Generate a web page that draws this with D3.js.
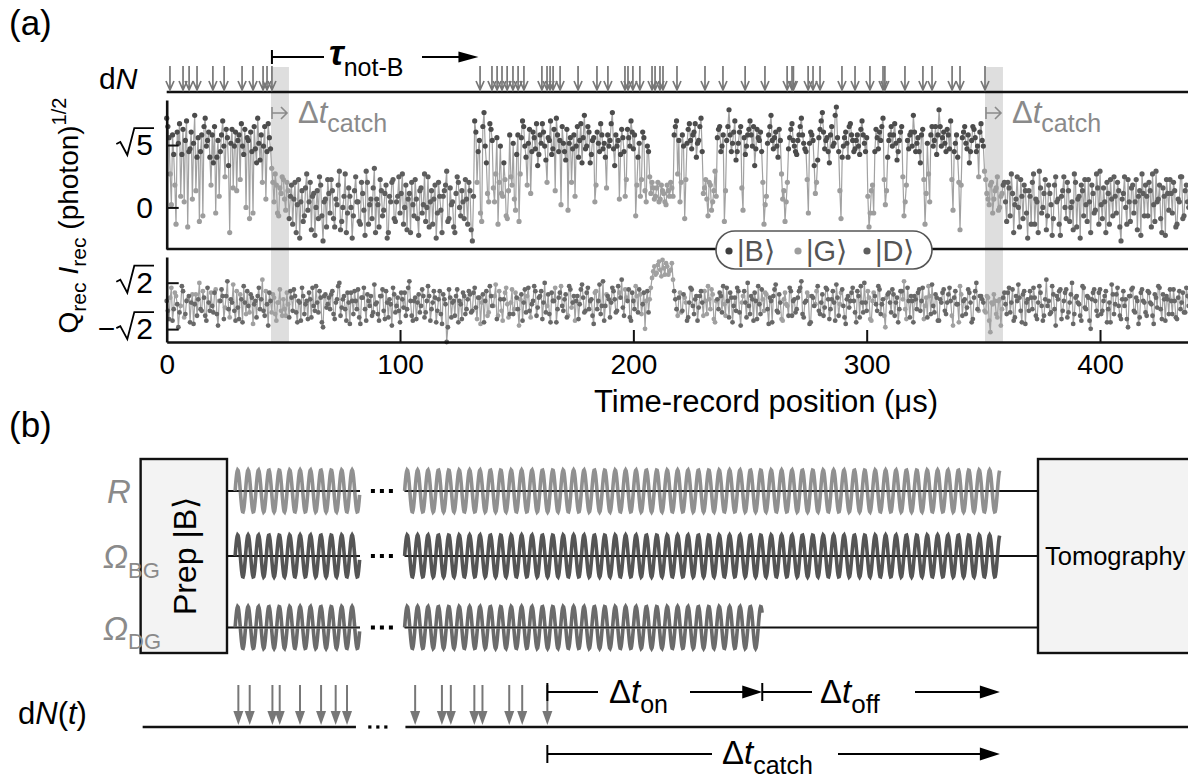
<!DOCTYPE html>
<meta charset="utf-8">
<head>
  <title>Catch and reverse record</title>
</head>

<style>
body {
  margin: 0;
  background: #fff;
}
svg {
  display: block;
  font-family: "Liberation Sans", Arial, Helvetica, sans-serif;
}
</style>

<body>
  <svg id="fig" width="1188" height="778"></svg>

  <script src="https://cdnjs.cloudflare.com/ajax/libs/d3/7.8.5/d3.min.js"></script>

  <script>
// ---- (a) time record: samples on the whole microsecond ----
var iRec = [
  3.2, 2.5, 0.1, 1.9,-0.6, 2.3, 0.4, 2.8, 2.4,-0.7,
  2.1, 0.3, 3.3, 1.8,-0.5, 2.6, 2.9, 2.2, 2.7, 0.8,
  1.6,-0.2, 2.4, 2.0, 3.1, 1.1, 2.5,-0.9, 2.8, 2.2,
  0.6, 2.6, 3.0, 1.9, 0.0, 2.4, 2.7,-0.2, 2.1, 3.2,
  1.7, 0.9, 2.9, 2.0, 2.5, 1.4, 0.2, 0.8,-0.3, 0.5,
  1.0,-0.1, 0.6, 0.4,-0.6, 0.9, 0.1,-1.1, 0.6,-0.3,
  1.2, 0.2,-0.8, 0.5, 0.0,-0.4, 0.8,-1.2, 0.3, 1.0,
 -0.2, 0.6,-0.7, 0.1, 1.3,-0.5, 0.4,-0.9, 0.7, 0.0,
 -0.3, 1.1, 0.2,-0.6, 0.5,-1.0, 0.9, 0.1,-0.4, 1.4,
  0.3,-0.7, 0.6,-0.1, 0.8,-0.9, 0.2, 1.0,-0.5, 0.4,
 -0.2, 1.2, 0.0,-0.8, 0.5, 0.9,-0.3, 0.3,-1.0, 0.7,
  0.1,-0.5, 1.1, 0.2,-0.6, 0.8,-0.2, 0.4,-0.9, 0.6,
  1.3,-0.4, 0.1,-0.7, 0.5, 0.9,-0.3, 0.2, 1.0,-0.6,
  0.6,-1.2, 3.1, 0.9, 2.4,-0.5, 3.4, 1.6, 0.2, 2.8,
  0.7, 1.2,-0.6, 2.2, 0.4, 1.0,-0.4, 2.6, 0.8, 0.3,
  1.9,-0.5, 2.5, 2.9, 1.8, 2.3, 0.5, 2.7, 2.1, 1.5,
  2.6, 3.0, 2.2, 0.9, 2.4, 1.9, 2.8, 3.2, 2.0, 0.1,
  2.3, 1.7,-0.1, 2.5, 2.1, 0.4, 2.9, 2.4, 1.6, 3.3,
  2.2, 2.7, 1.9, 2.5, 0.8, 2.3, 3.0, 2.1, 1.8, 2.6,
  2.4, 3.4, 1.5, 2.2, 0.3, 2.8, 2.0, 1.0, 2.5, 3.1,
  2.1,-0.3, 1.8, 0.4, 2.7, 0.6, 2.2, 1.1, 0.9, 0.3,
  0.7, 0.2, 0.8, 0.5, 0.1, 0.6, 0.9, 0.4, 2.9, 1.2,
  0.2, 2.6,-0.4, 2.3, 3.0, 2.1, 2.7, 1.8, 2.4, 3.2,
  0.5, 1.0,-0.3, 0.8, 0.2, 1.3, 2.5, 2.9, 2.2,-0.5,
  2.4, 3.5, 2.0, 2.7, 1.7, 2.3, 2.9,-0.1, 1.9, 2.6,
  3.1, 2.2, 1.5, 2.8, 2.4, 2.0,-0.6, 0.4, 2.6, 3.3,
  2.1, 2.7, 1.8, 2.4, 0.3,-0.5, 0.9, 2.5, 3.0, 2.2,
  1.9, 2.6, 3.2, 2.3, 2.0,-0.2, 2.7, 2.4, 0.5, 1.7,
  2.8, 3.4, 2.1, 2.5, 1.6, 2.9, 2.3, 3.6, 2.0,-0.4,
  2.2, 2.7, 1.8, 3.0, 2.4, 2.1, 2.6, 1.9, 3.1, 2.3,
  2.5,-0.7, 0.6,-0.2, 2.8, 2.1, 2.4, 3.2, 0.1, 1.8,
  2.6, 2.2, 3.0, 1.7, 2.4, 2.9,-0.3, 0.8, 2.1, 2.7,
  3.3, 2.0, 2.5, 1.6, 2.8,-0.6, 2.3, 0.2, 2.9, 2.4,
  1.9, 3.5, 2.2, 2.7, 2.0, 2.6, 3.1,-0.1, 2.3, 1.8,
 -0.8, 2.5, 2.9, 2.1, 1.6, 2.4, 2.8, 2.0, 1.1, 3.0,
  2.2, 1.0, 0.3, 0.8,-0.2, 0.6, 1.1, 0.0, 0.5, 0.9,
 -0.5, 0.7, 1.2,-0.9, 0.3, 0.0, 1.0,-0.4, 0.6,-1.1,
  0.4, 0.9,-0.6, 0.2, 1.3,-0.2, 0.5,-0.8, 0.8, 0.1,
 -0.4, 1.1, 0.3,-1.0, 0.6, 0.0, 0.9,-0.5, 0.2, 1.2,
 -0.7, 0.4, 0.8,-0.3, 0.1, 1.0,-0.9, 0.5,-0.1, 0.7,
  1.3,-0.4, 0.2, 0.9,-0.6, 0.3, 1.1,-0.2, 0.6,-1.2,
  0.5, 0.0, 1.0,-0.5, 0.8, 0.2,-0.8, 0.6, 1.2,-0.3,
  0.4, 0.9,-0.7, 0.1, 1.3, 0.3,-0.4, 0.7,-1.0, 0.5,
  1.0,-0.2, 0.6,-0.6, 0.2, 1.1,-0.3, 0.8, 0.0
];

var qRec = [
  0.3,-0.8, 1.1,-0.2, 0.6,-1.3, 0.0, 0.9,-0.5, 0.4,
 -1.0, 0.7, 0.1,-0.6, 1.4,-0.3, 0.5,-0.9, 0.2, 0.8,
 -0.4, 1.0,-1.2, 0.3, 0.6,-0.1, 1.5,-0.7, 0.2,-0.3,
  0.9,-0.8, 0.4, 1.2,-0.5, 0.0, 0.7,-1.1, 0.3, 0.6,
 -0.2, 1.6,-0.6, 0.1, 0.8,-0.4, 0.5,-0.9, 0.2,-0.3,
  0.4,-0.6, 0.1, 0.9,-0.3, 0.6,-1.0, 0.2, 1.1,-0.5,
  0.3, 0.8,-0.7, 0.0, 1.2,-0.4, 0.5,-1.3, 0.7, 0.1,
 -0.2, 0.9,-0.8, 0.4, 1.4,-0.1, 0.6,-0.9, 0.2, 0.8,
 -0.5, 0.3, 1.0,-1.1, 0.5,-0.2, 0.7, 0.0,-0.6, 1.3,
  0.2,-0.9, 0.6,-0.3, 0.9,-0.7, 0.1, 1.1,-0.4, 0.5,
 -1.0, 0.4, 0.8,-0.2, 1.5,-0.6, 0.3,-0.8, 0.7, 0.0,
  0.6,-0.4, 1.2,-0.9, 0.2, 0.5,-0.3, 0.9,-1.1, 0.4,
 -2.2, 1.0,-0.7, 0.3, 0.6,-1.0, 0.1, 0.8,-0.5, 0.4,
  0.7,-0.3, 1.1,-0.8, 0.5, 0.2,-1.0, 0.9,-0.4, 0.6,
  0.0, 1.3,-0.6, 0.4,-0.9, 0.8, 0.1,-0.5, 1.0,-0.2,
  0.5,-1.2, 0.7, 0.2,-0.4, 1.1,-0.7, 0.3, 0.9,-0.1,
  0.6,-0.8, 1.4, 0.0,-0.5, 0.8, 0.3,-1.0, 0.5, 1.2,
 -0.3, 0.7,-0.6, 1.0, 0.2,-0.9, 0.6, 0.1, 1.3,-0.4,
  0.8,-0.2, 0.4,-1.1, 0.9, 0.3,-0.5, 1.5, 0.0, 0.6,
 -0.7, 1.1, 0.4,-0.3, 0.8, 1.6,-0.6, 0.5, 1.0,-0.9,
  0.3, 1.2,-0.4, 0.7, 0.1,-1.4, 0.9, 0.4, 1.7, 2.4,
  2.0, 2.7, 1.8, 2.3, 2.6, 1.9, 2.2, 1.6, 0.4,-0.6,
  0.8,-0.3, 0.5,-0.9, 0.2, 1.0,-0.5, 0.6,-0.1, 0.9,
 -0.6, 0.3, 1.2,-0.2, 0.7,-1.0, 0.4, 0.8,-0.4, 0.1,
  1.1,-0.7, 0.5, 0.0,-0.3, 0.9,-1.2, 0.6, 0.2, 1.4,
 -0.5, 0.4, 0.8,-0.8, 0.1, 1.0,-0.3, 0.7,-1.1, 0.3,
  0.6, 1.3,-0.4, 0.2,-0.9, 0.8, 0.0, 1.1,-0.6, 0.4,
 -0.2, 0.9, 1.5,-0.7, 0.3, 0.6,-1.0, 0.5, 0.1, 1.2,
 -0.5, 0.7,-0.1, 1.0,-0.8, 0.4, 0.2, 1.3,-0.6, 0.8,
  0.0,-1.1, 0.6, 0.3, 1.1,-0.4, 0.9,-0.7, 0.2, 1.4,
 -0.3, 0.5,-0.9, 0.8, 0.1, 1.2,-0.5, 0.4,-1.3, 0.7,
  0.2, 1.0,-0.6, 0.5,-0.2, 0.9, 1.5,-0.8, 0.3, 0.6,
 -1.0, 0.4, 0.8,-0.3, 1.1, 0.0,-0.7, 0.6, 1.3,-0.4,
  0.5,-0.9, 0.2, 1.0,-0.5, 0.7, 0.3,-1.2, 0.9, 0.1,
  1.2,-0.6, 0.4,-0.1, 0.8,-1.0, 0.5, 1.4,-0.3, 0.6,
  0.2,-0.4, 0.5,-1.6, 0.1, 0.3,-0.7, 0.4,-0.2, 0.8,
 -0.5, 1.1, 0.2,-0.9, 0.6, 1.3,-0.3, 0.7,-1.1, 0.4,
  0.9,-0.2, 0.5,-0.8, 1.2, 0.0,-0.6, 1.6, 0.3,-0.4,
  0.7,-1.2, 0.4, 1.0,-0.3, 0.8,-0.7, 0.2, 1.4,-0.5,
  0.6, 0.1,-0.9, 1.1,-0.2, 0.5,-1.4, 0.8, 0.3,-0.6,
  1.0,-0.3, 0.6,-1.0, 0.2, 1.3,-0.5, 0.7, 0.0,-0.8,
  0.9, 0.4,-1.3, 0.6, 1.1,-0.4, 0.3,-0.7, 1.0, 0.2,
 -0.6, 0.8, 0.1,-1.1, 0.5, 1.2,-0.2, 0.7,-0.9, 0.4,
  1.0,-0.5, 0.3,-0.8, 0.9, 0.2,-0.4, 1.1, 0.0
];

// state of each whole-microsecond sample (B, G, D), ten per row
var stateSeq = [
  "BBGBGBGBBG", "BGBBGBBBBG", "BGBBBGBGBB", "GBBBGBBGBB", "BGBBBGGGGG",
  "GGGDDDDDDD", "DDDDDDDDDD", "DDDDDDDDDD", "DDDDDDDDDD", "DDDDDDDDDD",
  "DDDDDDDDDD", "DDDDDDDDDD", "DDDDDDDDDD", "DDBGBGBBGB", "GGGBGGGBGG",
  "BGBBBBGBBB", "BBBGBBBBBG", "BBGBBGBBBB", "BBBBGBBBBB", "BBBBGBBGBB",
  "BGBGBGBGGG", "GGGGGGGGBG", "GBGBBBBBBB", "GGGGGGBBBG", "BBBBBBBGBB",
  "BBBBBBGGBB", "BBBBGGGBBB", "BBBBBGBBGB", "BBBBBBBBBG", "BBBBBBBBBB",
  "BGGGBBBBGB", "BBBBBBGGBB", "BBBBBGBGBB", "BBBBBBBGBB", "GBBBBBBBGB",
  "BGGGGGGGGD", "DDDDDDDDDD", "DDDDDDDDDD", "DDDDDDDDDD", "DDDDDDDDDD",
  "DDDDDDDDDD", "DDDDDDDDDD", "DDDDDDDDDD", "DDDDDDDDD"
].join("");

// ---- samples on the half microsecond ----
var iRecMid = [
  2.9, 1.2, 2.6, 0.8, 2.7, 3.0, 1.9, 0.2, 3.1, 2.0,
  2.7, 2.3, 0.6, 2.5, 2.0,-0.3, 3.2, 2.4, 1.8, 2.6,
  2.9, 1.8, 0.4, 2.6, 2.2, 2.8, 1.5, 2.3, 0.7, 2.7,
  2.4, 1.0, 2.2, 2.8, 2.5,-0.4, 2.0, 2.9, 1.6, 2.3,
  2.6, 2.2, 0.3, 3.0, 2.1, 0.9, 1.2,-0.2, 0.7, 1.1,
  0.3, 0.9,-0.4, 0.8, 0.3,-0.9, 1.0, 0.2,-0.5, 0.7,
 -0.1, 0.9, 0.4,-1.0, 0.6, 1.1,-0.3, 0.2,-0.7, 0.5,
  1.0,-0.4, 0.3, 0.8,-0.8, 0.0, 1.2,-0.2, 0.4,-1.1,
  0.6, 0.2,-0.5, 0.9,-0.1, 1.3,-0.6, 0.3, 0.7,-0.9,
  0.1, 1.0,-0.3, 0.5,-1.1, 0.4, 0.9,-0.4, 0.2, 1.1,
  0.5,-0.6, 0.8, 0.3,-0.9, 0.1, 1.0,-0.4, 0.6,-0.2,
  1.2, 0.0,-0.7, 0.6, 0.3,-1.1, 0.9,-0.1, 0.4, 0.8,
 -0.5, 0.7, 0.2,-0.9, 1.1, 0.0, 0.6,-0.4, 0.3, 0.9,
 -0.8, 0.4, 2.7, 2.0,-0.2, 2.9, 2.2, 0.5, 3.0, 2.4,
  0.2, 2.5, 0.9, 0.5, 1.6,-0.3, 0.6, 1.1, 2.3,-0.1,
  2.6, 1.2, 3.1, 2.2, 0.8, 2.8, 2.0, 2.5, 3.0, 1.9,
  2.3, 2.7, 1.7, 2.5, 3.1, 2.1, 0.6, 2.6, 2.4, 2.9,
  2.0, 2.8, 2.3, 0.9, 2.6, 2.2, 1.8, 3.0, 2.5, 2.1,
  2.9, 1.6, 2.4, 0.2, 2.7, 2.0, 2.6, 2.3, 0.7, 2.2,
  3.0, 2.1, 2.6, 2.4, 1.9, 2.5, 0.4, 2.8, 2.2, 2.7,
  2.6, 0.8, 2.3, 1.0, 2.5, 0.2, 2.0, 0.5, 0.7, 0.4,
  0.9, 0.3, 0.6, 0.2, 0.8, 0.4, 0.7, 2.6, 3.1, 2.4,
  0.9, 2.2, 1.0, 2.8, 2.4, 2.6, 3.0, 2.3, 2.9, 2.0,
  0.7, 0.3, 0.9,-0.1, 0.6, 0.4, 2.8, 2.0, 2.6, 0.6,
  2.9, 2.6, 2.3, 3.1, 2.0, 2.7, 0.7, 2.5, 2.2, 2.8,
  2.6, 2.9, 2.1, 2.5, 2.7, 0.9, 0.1, 2.3, 2.9, 2.4,
  2.5, 2.2, 2.8, 1.2, 0.6, 0.2, 2.1, 2.8, 2.4, 2.0,
  2.4, 2.9, 2.6, 2.1, 1.0, 2.3, 2.6, 1.5, 0.9, 2.5,
  3.1, 2.7, 2.4, 2.0, 2.6, 2.2, 3.3, 2.5, 0.6, 1.8,
  2.5, 2.3, 2.9, 2.6, 2.0, 2.4, 2.2, 2.8, 2.6, 2.0,
  0.4,-0.2, 0.8, 2.0, 2.5, 2.7, 2.9, 1.0, 0.6, 2.4,
  2.9, 2.6, 2.3, 2.0, 2.7, 1.1, 0.2, 2.4, 2.6, 2.2,
  2.7, 2.3, 2.0, 2.6, 1.0, 0.5, 1.2, 2.6, 2.2, 2.9,
  2.6, 2.9, 2.5, 2.3, 2.8, 2.1, 1.0, 2.0, 2.6, 0.9,
  0.8, 2.7, 2.3, 2.6, 2.0, 2.9, 2.5, 2.2, 2.7, 2.4,
  1.3, 0.5, 0.1, 0.9, 0.3, 0.7,-0.1, 0.4, 0.8, 0.2,
  0.9,-0.3, 0.5, 0.1, 1.1,-0.7, 0.4, 0.8,-0.2, 0.6,
 -0.6, 1.2, 0.3,-0.9, 0.7, 0.0, 1.0,-0.3, 0.5,-1.0,
  0.8, 0.2,-0.6, 0.4, 1.1,-0.4, 0.6, 0.0,-0.8, 0.9,
  0.3,-1.1, 0.6, 1.0,-0.5, 0.2, 0.8,-0.2, 1.2,-0.6,
  0.1, 0.7,-0.9, 0.5, 1.0,-0.3, 0.4, 0.9,-0.7, 0.3,
  1.1,-0.6, 0.2, 0.7,-0.2, 1.0, 0.4,-1.0, 0.5, 0.8,
 -0.3, 0.6, 1.2,-0.5, 0.2, 0.8,-0.9, 0.4, 1.0,-0.1,
  0.5, 0.9,-0.7, 0.3, 1.1,-0.4, 0.6, 0.2
];

var qRecMid = [
 -0.3, 0.5,-0.9, 0.8, 0.1,-0.4, 1.2,-0.7, 0.3, 0.6,
  0.2,-1.1, 0.7, 0.4,-0.2, 0.9,-0.6, 1.1,-0.3, 0.0,
  0.8,-0.5, 0.3, 1.0,-0.8, 0.6,-0.2, 0.4, 1.3,-0.9,
 -0.1, 0.7,-1.0, 0.2, 0.9,-0.4, 0.5, 0.1,-0.7, 1.1,
  0.4,-0.3, 0.9,-1.2, 0.3, 0.7,-0.5, 0.2, 1.0,-0.6,
 -0.2, 0.8,-0.7, 0.5, 1.0,-0.4, 0.3,-0.9, 0.6, 0.1,
 -0.8, 0.4, 1.1,-0.3, 0.2, 0.9,-1.0, 0.6,-0.1, 0.5,
  0.7,-0.5, 0.2, 1.2,-0.6, 0.4,-0.2, 0.8,-1.1, 0.3,
  0.9,-0.2,-0.7, 0.5, 1.1,-0.9, 0.3, 0.6,-0.4, 0.1,
 -0.5, 0.6, 1.0,-0.8, 0.2, 0.4,-1.2, 0.7, 0.0,-0.3,
  0.8,-0.1,-0.6, 1.1, 0.3,-0.9, 0.5, 0.2,-0.4, 1.0,
 -0.7, 0.3, 0.6,-0.2, 0.9,-1.0, 0.4,-0.5, 0.7, 0.1,
 -1.3, 0.5, 0.2,-0.6, 1.0, 0.3,-0.8, 0.6,-0.2, 0.9,
 -0.4, 0.8,-0.1, 0.5,-1.1, 0.7, 0.3,-0.6, 1.2, 0.0,
  0.6,-0.8, 0.9,-0.3, 0.4, 1.1,-0.7, 0.2,-0.5, 0.8,
 -0.2, 0.4,-0.9, 1.0, 0.6,-0.3, 0.1, 1.2,-0.6, 0.5,
  0.9, 0.2,-0.4, 0.7,-1.0, 0.3, 1.1,-0.2, 0.8, 0.0,
  0.4,-0.7, 1.2,-0.1, 0.6, 0.3,-0.8, 1.0, 0.5,-0.3,
  1.1, 0.3,-0.6, 0.8,-0.2, 1.3, 0.0,-0.9, 0.7, 0.4,
  0.2, 0.9,-0.4, 1.2, 0.5,-0.1, 1.0, 0.3,-0.7, 0.8,
 -0.2, 0.6, 1.0,-0.5, 0.8, 0.3,-0.4, 1.1, 2.1, 1.9,
  2.5, 2.2, 2.8, 1.9, 2.4, 2.1, 2.6, 0.9,-0.2, 0.5,
 -0.4, 0.7, 0.2,-0.7, 1.1, 0.0, 0.4,-0.9, 0.6, 0.2,
  0.9,-0.5, 0.4, 1.0,-0.8, 0.3,-0.2, 0.6, 1.2,-0.6,
  0.3, 0.8,-1.0, 0.5, 1.1,-0.4, 0.2, 0.9,-0.7, 0.0,
  0.6,-0.9, 0.3, 1.2,-0.5, 0.4, 0.8,-0.2, 0.5,-1.0,
  1.0,-0.3, 0.7,-0.8, 0.4, 0.1,-0.6, 0.9, 0.3,-0.4,
  0.5, 1.1,-0.5, 0.2, 0.8,-1.1, 0.6, 0.0, 0.9,-0.3,
  0.2,-0.6, 1.1, 0.4,-0.2, 0.9,-0.9, 0.5, 0.1, 1.0,
 -0.7, 0.4,-0.1, 0.8, 0.3,-1.0, 0.6, 1.2,-0.4, 0.2,
  0.9,-0.8, 0.3, 0.6,-0.3, 1.0, 0.1,-0.6, 0.5, 0.8,
 -0.4, 0.7, 0.2,-1.0, 0.9, 0.4,-0.2, 1.1,-0.7, 0.3,
  0.6,-0.2, 1.0, 0.3,-0.8, 0.5, 1.2,-0.5, 0.0, 0.7,
 -0.9, 0.4, 0.8,-0.3, 0.2, 1.1,-0.6, 0.5, 0.1,-1.0,
  0.7, 0.3,-0.5, 1.0, 0.2,-0.8, 0.9,-0.2, 0.6, 0.4,
 -0.3, 0.6,-0.9, 0.2, 0.7,-0.5, 0.3,-1.2, 0.5, 0.1,
  0.8,-0.4, 1.0,-0.7, 0.3, 0.5,-1.0, 0.9, 0.2,-0.3,
  0.5, 1.1,-0.6, 0.2, 0.8,-0.9, 0.4, 0.0,-0.5, 1.2,
 -0.2, 0.6, 0.9,-0.8, 0.3, 1.0,-0.4, 0.7,-1.1, 0.5,
  0.2,-0.6, 1.2,-0.1, 0.6,-0.9, 0.4, 1.0,-0.3, 0.8,
 -0.5, 0.3, 0.9,-0.2,-1.0, 0.7, 0.1, 1.1,-0.6, 0.4,
  0.0,-0.8, 0.6, 1.0,-0.3, 0.5,-1.1, 0.8, 0.3,-0.4,
  0.9, 0.2,-0.6, 0.7,-0.1, 1.1,-0.8, 0.4, 0.6,-0.5,
  0.3, 1.0,-0.7, 0.5,-0.2, 0.8,-0.4, 0.6
];

var stateSeqMid = [
  "BGBGBBBGBB", "BBGBBGBBBB", "BBGBBBBBGB", "BGBBBGBBBB", "BBGBBGGGGG",
  "GGDDDDDDDD", "DDDDDDDDDD", "DDDDDDDDDD", "DDDDDDDDDD", "DDDDDDDDDD",
  "DDDDDDDDDD", "DDDDDDDDDD", "DDDDDDDDDD", "DDBBGBBGBB", "GBGGBGGGBG",
  "BGBBGBBBBB", "BBBBBBGBBB", "BBBGBBBBBB", "BBBGBBBBGB", "BBBBBBGBBB",
  "BGBGBGBGGG", "GGGGGGGBBB", "GBGBBBBBBB", "GGGGGGBBBG", "BBBBBBGBBB",
  "BBBBBGGBBB", "BBBGGGBBBB", "BBBBGBBBGB", "BBBBBBBBGB", "BBBBBBBBBB",
  "GGGBBBBGGB", "BBBBBGGBBB", "BBBBGGGBBB", "BBBBBBGBBG", "GBBBBBBBBB",
  "GGGGGGGGDD", "DDDDDDDDDD", "DDDDDDDDDD", "DDDDDDDDDD", "DDDDDDDDDD",
  "DDDDDDDDDD", "DDDDDDDDDD", "DDDDDDDDDD", "DDDDDDDD"
].join("");

var sampleStep = 1; // microseconds between rows of the same array

// photon clicks dN (microseconds)
var clickTimes = [1.4, 7.0, 9.6, 13.0, 19.8, 24.6, 32.3, 37.0, 41.3, 43.0, 45.1,
  134.3, 139.4, 141.6, 143.7, 145.9, 148.4, 150.6, 153.1, 160.8, 163.0, 164.3, 165.6,
  168.6, 176.3, 184.4, 189.1, 196.4, 197.7, 199.8, 202.8, 208.0, 209.3, 211.4, 212.7,
  218.7, 230.7, 238.4, 247.9, 256.4, 265.9, 268.0, 268.6, 274.9, 277.0, 280.0, 289.4,
  295.0, 301.4, 307.0, 307.8, 316.4, 324.1, 328.0, 336.6, 340.0, 350.7];

var catchWindows = [[44.7, 52.4], [350.7, 358.4]];
var tauSpan = [45.1, 133.6];
var xTicks = [0, 100, 200, 300, 400];
var legendStates = ["B", "G", "D"];

// ---- (b) protocol, schematic time units ----
var driveNames = ["R", "Ω", "Ω"];
var driveSubs = ["", "BG", "DG"];
var burstOne = [1.0, 16.4];
var burstTwoStart = 21.9;
var driveOff = [95.3, 95.3, 66.0];
var clicksB = [1.4, 2.8, 5.6, 6.5, 9.0, 11.6, 13.4, 14.8,
  23.2, 26.5, 27.6, 30.5, 31.5, 34.8, 36.4, 39.5];
var onOff = [39.5, 66.0, 95.3];

var stateColor = {B: "#4c4c4c", G: "#9d9d9d", D: "#5e5e5e"};
var driveColor = ["#909090", "#555555", "#6b6b6b"];

var svg = d3.select("#fig");
svg.append("rect").attr("width", 1188).attr("height", 778).attr("fill", "#fff");

// text with sub / superscripts: parts = [[text, flags, size]]
function rich(g, x, y, size, parts, fill, anchor) {
  var t = g.append("text").attr("x", x).attr("y", y)
    .attr("font-size", size).attr("fill", fill || "#000");
  if (anchor) t.attr("text-anchor", anchor);
  var shift = 0;
  parts.forEach(function(p) {
    var ts = t.append("tspan").text(p[0]);
    var f = p[1] || "";
    if (f.indexOf("i") >= 0) ts.attr("font-style", "italic");
    if (f.indexOf("b") >= 0) ts.attr("font-weight", "bold");
    var target = f.indexOf("_") >= 0 ? size * 0.3 : (f.indexOf("^") >= 0 ? -size * 0.42 : 0);
    if (target !== shift) { ts.attr("dy", target - shift); shift = target; }
    if (target !== 0) ts.attr("font-size", p[2] || size * 0.75);
  });
  return t;
}

function headRight(g, xt, yt, len, hw, fill) {
  g.append("path").attr("d", "M" + xt + "," + yt + "L" + (xt - len) + "," + (yt - hw) +
    "L" + (xt - len) + "," + (yt + hw) + "Z").attr("fill", fill);
}
function headDown(g, xt, yt, len, hw, fill) {
  g.append("path").attr("d", "M" + xt + "," + yt + "L" + (xt - hw) + "," + (yt - len) +
    "L" + (xt + hw) + "," + (yt - len) + "Z").attr("fill", fill);
}

// radical tick label, right aligned at xr, centred on yc
function radical(g, xr, yc, digit, minus) {
  var t = g.append("text").attr("x", xr).attr("y", yc + 10).attr("text-anchor", "end")
    .attr("font-size", 30).text(digit);
  var a = xr - t.node().getComputedTextLength();
  g.append("path")
    .attr("d", "M" + (a - 20) + "," + (yc - 1) + "L" + (a - 16) + "," + (yc - 3) +
      "L" + (a - 9) + "," + (yc + 10) + "L" + (a - 2) + "," + (yc - 17) + "H" + (xr + 1))
    .attr("fill", "none").attr("stroke", "#000").attr("stroke-width", 1.8);
  if (minus) {
    g.append("text").attr("x", a - 21).attr("y", yc + 10).attr("text-anchor", "end")
      .attr("font-size", 30).text("\u2212");
  }
}

// ================= (a) =================
var gA = svg.append("g");
var x = d3.scaleLinear().domain([0, 438]).range([166.7, 166.7 + 438 * 2.3333]);
var yI = d3.scaleLinear().domain([-1.49, 3.85]).range([249, 100]);
var yQ = d3.scaleLinear().domain([-2.2, 2.98]).range([342, 257]);
var dnY = 92;

rich(svg, 9, 35, 35, [["(a)"]]);

// catch windows
gA.selectAll("rect.catch").data(catchWindows).join("rect")
  .attr("class", "catch")
  .attr("x", function(d) { return x(d[0]); })
  .attr("width", function(d) { return x(d[1]) - x(d[0]); })
  .attr("y", 67).attr("height", 342 - 67)
  .attr("fill", "#dedede");

// click record
gA.append("line").attr("x1", x(0)).attr("x2", 1188).attr("y1", dnY).attr("y2", dnY)
  .attr("stroke", "#111").attr("stroke-width", 2.6);
clickTimes.forEach(function(t) {
  var cx = x(t);
  gA.append("path")
    .attr("d", "M" + cx + ",66V" + (dnY - 2) + "M" + (cx - 4) + "," + (dnY - 11) +
      "L" + cx + "," + (dnY - 2) + "L" + (cx + 4) + "," + (dnY - 11))
    .attr("fill", "none").attr("stroke", "#777").attr("stroke-width", 1.7);
});
rich(svg, 99, 89, 30, [["d"], ["N", "i"]]);

// tau_not-B arrow
var tauY = 57;
gA.append("line").attr("x1", x(tauSpan[0])).attr("x2", x(tauSpan[0]))
  .attr("y1", tauY - 7).attr("y2", tauY + 7).attr("stroke", "#000").attr("stroke-width", 2);
gA.append("line").attr("x1", x(tauSpan[0])).attr("x2", 324).attr("y1", tauY).attr("y2", tauY)
  .attr("stroke", "#000").attr("stroke-width", 2);
gA.append("line").attr("x1", 422).attr("x2", x(tauSpan[1]) - 10).attr("y1", tauY).attr("y2", tauY)
  .attr("stroke", "#000").attr("stroke-width", 2);
headRight(gA, x(tauSpan[1]), tauY, 20, 5.5, "#000");
rich(svg, 329, 65, 36, [["τ", "bi"], ["not-B", "_", 25]]);

// traces: both sample arrays merged on the time axis
var points = iRec.map(function(v, k) {
  return {t: k * sampleStep, i: v, q: qRec[k], s: stateSeq.charAt(k) || "B"};
}).concat(iRecMid.map(function(v, k) {
  return {t: (k + 0.5) * sampleStep, i: v, q: qRecMid[k], s: stateSeqMid.charAt(k) || "B"};
})).sort(function(a, b) { return a.t - b.t; });

var drawOrder = points.filter(function(d) { return d.s === "G"; })
  .concat(points.filter(function(d) { return d.s !== "G"; }));

var lineI = d3.line().x(function(d) { return x(d.t); }).y(function(d) { return yI(d.i); });
var lineQ = d3.line().x(function(d) { return x(d.t); }).y(function(d) { return yQ(d.q); });

gA.append("path").datum(points).attr("d", lineI)
  .attr("fill", "none").attr("stroke", "#a2a2a2").attr("stroke-width", 1.2);
gA.append("path").datum(points).attr("d", lineQ)
  .attr("fill", "none").attr("stroke", "#a2a2a2").attr("stroke-width", 1.2);

gA.selectAll("circle.di").data(drawOrder).join("circle").attr("class", "di")
  .attr("cx", function(d) { return x(d.t); })
  .attr("cy", function(d) { return yI(d.i); })
  .attr("r", 2.6)
  .attr("fill", function(d) { return stateColor[d.s]; });
gA.selectAll("circle.dq").data(drawOrder).join("circle").attr("class", "dq")
  .attr("cx", function(d) { return x(d.t); })
  .attr("cy", function(d) { return yQ(d.q); })
  .attr("r", 2.4)
  .attr("fill", function(d) { return d.s === "G" ? "#a0a0a0" : "#686868"; });

// axes
function styleAxis(g) {
  g.selectAll("path.domain").attr("stroke", "#111").attr("stroke-width", 2.6);
  g.selectAll(".tick line").attr("stroke", "#111").attr("stroke-width", 2);
}
var axI = gA.append("g").attr("transform", "translate(" + x(0) + ",0)")
  .call(d3.axisLeft(yI).tickValues([Math.sqrt(5), 0]).tickSize(-12).tickSizeOuter(0).tickFormat(""));
styleAxis(axI);
var axQ = gA.append("g").attr("transform", "translate(" + x(0) + ",0)")
  .call(d3.axisLeft(yQ).tickValues([Math.sqrt(2), -Math.sqrt(2)]).tickSize(-12).tickSizeOuter(0).tickFormat(""));
styleAxis(axQ);
var axX = gA.append("g").attr("transform", "translate(0,342)")
  .call(d3.axisBottom(x).tickValues(xTicks).tickSize(-12).tickSizeOuter(0).tickPadding(12));
styleAxis(axX);
axX.selectAll(".tick text").attr("font-size", 28).attr("fill", "#000")
  .attr("font-family", "Liberation Sans, Arial, sans-serif");
axX.selectAll(".tick").filter(function(d) { return d === 0; }).select("line").remove();

gA.append("line").attr("x1", x(0)).attr("x2", 1188).attr("y1", 249).attr("y2", 249)
  .attr("stroke", "#111").attr("stroke-width", 2.6);

radical(gA, 153, yI(Math.sqrt(5)), "5");
gA.append("text").attr("x", 153).attr("y", yI(0) + 11).attr("text-anchor", "end")
  .attr("font-size", 30).text("0");
radical(gA, 153, yQ(Math.sqrt(2)), "2");
radical(gA, 153, yQ(-Math.sqrt(2)), "2", true);

rich(svg, 766, 412, 31, [["Time-record position (μs)"]], "#000", "middle");

var gl = svg.append("g").attr("transform", "translate(78,186) rotate(-90)");
rich(gl, 0, 0, 28, [["I", "i"], ["rec", "_", 21], [" (photon)"], ["1/2", "^", 20]], "#000", "middle");
var gq = svg.append("g").attr("transform", "translate(78,308) rotate(-90)");
rich(gq, 0, 0, 28, [["Q"], ["rec", "_", 21]], "#000", "middle");

// Δt_catch labels
catchWindows.forEach(function(w) {
  var xb = x(w[0]) + 1;
  gA.append("path")
    .attr("d", "M" + xb + ",107V119M" + xb + ",113H" + (xb + 15) +
      "M" + (xb + 9) + ",107L" + (xb + 15) + ",113L" + (xb + 9) + ",119")
    .attr("fill", "none").attr("stroke", "#8a8a8a").attr("stroke-width", 1.6);
  rich(gA, xb + 26, 123, 31, [["Δ"], ["t", "i"], ["catch", "_", 25]], "#8a8a8a");
});

// legend pill
var leg = svg.append("g");
leg.append("rect").attr("x", 716).attr("y", 231).attr("width", 216).attr("height", 38)
  .attr("rx", 19).attr("fill", "#fff").attr("stroke", "#555").attr("stroke-width", 1.6);
legendStates.forEach(function(s, k) {
  var lx = 729 + k * 69;
  leg.append("circle").attr("cx", lx).attr("cy", 251).attr("r", 3.6)
    .attr("fill", s === "B" ? "#3e3e3e" : stateColor[s]);
  rich(leg, lx + 8, 261, 29, [["|" + s + "⟩"]], "#555");
});

// ================= (b) =================
var gB = svg.append("g");
var xs = d3.scaleLinear().domain([0, 100]).range([227, 1038]);
var rowY = [491, 556, 627.5];
var dnBY = 727;
var period = 10.4, amp = 21;

rich(svg, 9, 437, 35, [["(b)"]]);

// row baselines, bursts, dots
rowY.forEach(function(yc, k) {
  gB.append("line").attr("x1", xs(-0.5)).attr("x2", xs(burstOne[1])).attr("y1", yc).attr("y2", yc)
    .attr("stroke", "#111").attr("stroke-width", 1.8);
  gB.append("line").attr("x1", xs(burstTwoStart)).attr("x2", xs(100)).attr("y1", yc).attr("y2", yc)
    .attr("stroke", "#111").attr("stroke-width", 1.8);
  [[burstOne[0], burstOne[1]], [burstTwoStart, driveOff[k]]].forEach(function(seg) {
    var x0 = xs(seg[0]), x1 = xs(seg[1]);
    var pts = d3.range(x0, x1, 0.5).map(function(px) {
      return [px, yc - amp * Math.sin(2 * Math.PI * (px - x0) / period)];
    });
    gB.append("path").attr("d", d3.line()(pts)).attr("fill", "none")
      .attr("stroke", driveColor[k]).attr("stroke-width", 3.6);
  });
  gB.append("line").attr("x1", xs(burstOne[0])).attr("x2", xs(burstOne[1])).attr("y1", yc).attr("y2", yc)
    .attr("stroke", "#222").attr("stroke-width", 1);
  gB.append("line").attr("x1", xs(burstTwoStart)).attr("x2", xs(driveOff[k])).attr("y1", yc).attr("y2", yc)
    .attr("stroke", "#222").attr("stroke-width", 1);
  [-1, 0, 1].forEach(function(j) {
    gB.append("rect").attr("x", xs(19.1) + j * 9 - 2).attr("y", yc - 2).attr("width", 4).attr("height", 4)
      .attr("fill", "#000");
  });
  var parts = [[driveNames[k], "i"]];
  if (driveSubs[k]) parts.push([driveSubs[k], "_", 22]);
  rich(svg, k === 0 ? 107 : 103, yc + 12, 33, parts, "#8a8a8a");
});

// prep and tomography boxes
gB.append("rect").attr("x", xs(-10.65)).attr("y", 459).attr("width", xs(0) - xs(-10.65)).attr("height", 194)
  .attr("fill", "#f3f3f3").attr("stroke", "#111").attr("stroke-width", 2.4);
gB.append("rect").attr("x", xs(100)).attr("y", 459).attr("width", 200).attr("height", 194)
  .attr("fill", "#f3f3f3").attr("stroke", "#111").attr("stroke-width", 2.4);
var gp = svg.append("g").attr("transform", "translate(196,556) rotate(-90)");
rich(gp, 0, 0, 32, [["Prep |B⟩"]], "#000", "middle");
rich(svg, xs(100) + 7, 565, 25.5, [["Tomography"]], "#000");

// dN(t) row
gB.append("line").attr("x1", xs(-10.4)).attr("x2", xs(15.9)).attr("y1", dnBY).attr("y2", dnBY)
  .attr("stroke", "#111").attr("stroke-width", 2.6);
gB.append("line").attr("x1", xs(22.0)).attr("x2", 1188).attr("y1", dnBY).attr("y2", dnBY)
  .attr("stroke", "#111").attr("stroke-width", 2.6);
[-1, 0, 1].forEach(function(j) {
  gB.append("rect").attr("x", xs(18.6) + j * 8 - 1.6).attr("y", dnBY - 1.6).attr("width", 3.2).attr("height", 3.2)
    .attr("fill", "#000");
});
clicksB.forEach(function(t) {
  var cx = xs(t);
  gB.append("line").attr("x1", cx).attr("x2", cx).attr("y1", 685).attr("y2", 714)
    .attr("stroke", "#777").attr("stroke-width", 2);
  headDown(gB, cx, 725, 14, 5, "#777");
});
rich(svg, 18, 724, 31, [["d"], ["N", "i"], ["("], ["t", "i"], [")"]]);

// Δt_on / Δt_off / Δt_catch
function span(g, xa, xb, y, gapA, gapB) {
  g.append("line").attr("x1", xa).attr("x2", xa).attr("y1", y - 9).attr("y2", y + 9)
    .attr("stroke", "#000").attr("stroke-width", 2);
  g.append("line").attr("x1", xa).attr("x2", gapA).attr("y1", y).attr("y2", y)
    .attr("stroke", "#000").attr("stroke-width", 2);
  g.append("line").attr("x1", gapB).attr("x2", xb - 12).attr("y1", y).attr("y2", y)
    .attr("stroke", "#000").attr("stroke-width", 2);
  headRight(g, xb, y, 20, 6.5, "#000");
}
span(gB, xs(onOff[0]), xs(onOff[1]), 692, 598, 690);
span(gB, xs(onOff[1]), xs(onOff[2]), 692, 812, 915);
span(gB, xs(onOff[0]), xs(onOff[2]), 754, 712, 838);
rich(svg, 609, 703, 33, [["Δ"], ["t", "i"], ["on", "_", 25]]);
rich(svg, 820, 703, 33, [["Δ"], ["t", "i"], ["off", "_", 26]]);
rich(svg, 722, 764, 33, [["Δ"], ["t", "i"], ["catch", "_", 25]]);
  </script>
</body>
</html>
